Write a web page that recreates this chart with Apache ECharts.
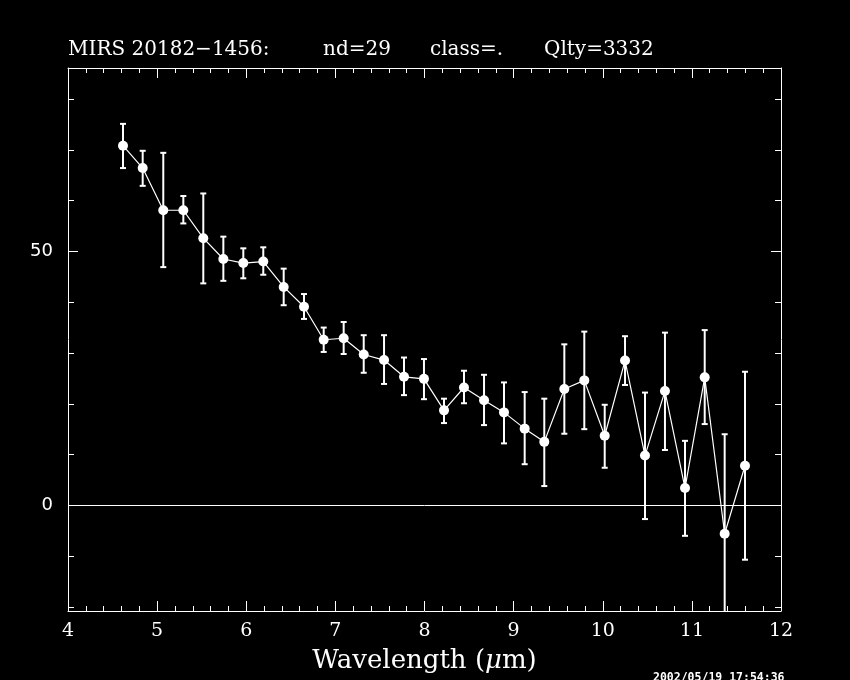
<!DOCTYPE html>
<html><head><meta charset="utf-8">
<script src="https://cdn.jsdelivr.net/npm/echarts@6/dist/echarts.min.js"></script>
<style>html,body{margin:0;padding:0;background:#000}#c{width:850px;height:680px}</style>
</head><body><div id="c"></div>
<script>
// Data
const wavelength = [4.617,4.838,5.069,5.294,5.518,5.743,5.967,6.191,6.420,6.648,6.869,7.093,7.318,7.546,7.770,7.994,8.219,8.443,8.668,8.892,9.124,9.344,9.569,9.793,10.022,10.250,10.474,10.698,10.923,11.144,11.368,11.596];
const flux = [70.8,66.4,58.1,58.1,52.6,48.5,47.7,48.0,43.0,39.1,32.6,32.9,29.7,28.6,25.3,24.9,18.7,23.2,20.7,18.3,15.1,12.5,22.9,24.6,13.7,28.5,9.8,22.5,3.4,25.2,-5.6,7.8];
const errHigh = [75.1,69.8,69.4,60.9,61.4,52.9,50.6,50.8,46.6,41.6,35.0,36.1,33.5,33.5,29.1,28.8,21.0,26.5,25.7,24.2,22.3,21.0,31.7,34.2,19.8,33.3,22.2,34.0,12.7,34.5,14.0,26.3];
const errLow = [66.4,62.9,46.9,55.5,43.7,44.2,44.7,45.4,39.4,36.7,30.2,29.8,26.1,23.9,21.7,20.9,16.2,20.1,15.8,12.2,8.1,3.8,14.1,15.0,7.4,23.7,-2.7,10.9,-6.0,16.0,-25.2,-10.7];
const yLabelValues = [0, 50];
const yMinorValues = [-20,-10,0,10,20,30,40,50,60,70,80];
const titleParts = ['MIRS 20182\u22121456:', 'nd=29', 'class=.', 'Qlty=3332'];
const stamp = '2002/05/19 17:54:36';

const W = '#ffffff';
const yMin = -20.8, yMax = 86.1;

const pts = wavelength.map((x, i) => [x, flux[i]]);
const errs = wavelength.map((x, i) => [x, errLow[i], errHigh[i]]);

function yAx(pos, ticks, len, showLine, showLabel) {
  return {
    type: 'value', position: pos, min: yMin, max: yMax,
    axisLine: {show: showLine, lineStyle: {color: W, width: 1}},
    axisTick: {show: true, inside: true, length: len, customValues: ticks, lineStyle: {color: W, width: 1}},
    axisLabel: {show: showLabel, customValues: yLabelValues, color: W, fontFamily: 'DejaVu Sans', fontSize: 18, margin: 15},
    splitLine: {show: false}
  };
}
function xAx(pos, showLabel) {
  return {
    type: 'value', position: pos, min: 4, max: 12, interval: 1,
    axisLine: {show: true, onZero: false, lineStyle: {color: W, width: 1}},
    axisTick: {show: true, inside: true, length: 10, lineStyle: {color: W, width: 1}},
    minorTick: {show: true, splitNumber: 5, length: 5, lineStyle: {color: W, width: 1}},
    axisLabel: {show: showLabel, color: W, fontFamily: 'DejaVu Serif', fontSize: 19, margin: 11},
    splitLine: {show: false}, minorSplitLine: {show: false}
  };
}

const chart = echarts.init(document.getElementById('c'));
const xa0 = xAx('bottom', true);
xa0.name = '{a|Wavelength (}{b|\u03bc}{a|m)}';
xa0.nameLocation = 'middle';
xa0.nameGap = 37;
xa0.nameTextStyle = {rich: {
  a: {color: W, fontFamily: 'DejaVu Serif', fontSize: 26},
  b: {color: W, fontFamily: 'DejaVu Serif', fontSize: 26, fontStyle: 'italic'}
}};

chart.setOption({
  backgroundColor: '#000',
  animation: false,
  grid: {left: 68, right: 69, top: 68, bottom: 69, containLabel: false},
  xAxis: [xa0, xAx('top', false)],
  yAxis: [
    yAx('left', yMinorValues, 6, true, true),
    yAx('left', yLabelValues, 10, false, false),
    yAx('right', yMinorValues, 6, true, false),
    yAx('right', yLabelValues, 10, false, false)
  ],
  graphic: [
    {type: 'text', left: 68, top: 40, style: {text: titleParts[0], fill: W, font: '20px "DejaVu Serif"'}},
    {type: 'text', left: 323, top: 40, style: {text: titleParts[1], fill: W, font: '20px "DejaVu Serif"'}},
    {type: 'text', left: 430, top: 40, style: {text: titleParts[2], fill: W, font: '20px "DejaVu Serif"'}},
    {type: 'text', left: 544, top: 40, style: {text: titleParts[3], fill: W, font: '20px "DejaVu Serif"'}},
    {type: 'text', left: 653, top: 672, style: {text: stamp, fill: W, font: 'bold 11.5px "DejaVu Sans Mono"'}}
  ],
  series: [
    {
      type: 'custom', xAxisIndex: 0, yAxisIndex: 0, clip: true, silent: true,
      data: errs,
      encode: {x: 0, y: [1, 2]},
      renderItem: function (params, api) {
        const x = api.value(0);
        const lo = api.coord([x, api.value(1)]);
        const hi = api.coord([x, api.value(2)]);
        const h = 3;
        const st = {stroke: W, lineWidth: 2};
        return {type: 'group', children: [
          {type: 'line', shape: {x1: lo[0], y1: lo[1], x2: hi[0], y2: hi[1]}, style: st},
          {type: 'line', shape: {x1: lo[0]-h, y1: lo[1], x2: lo[0]+h, y2: lo[1]}, style: st},
          {type: 'line', shape: {x1: hi[0]-h, y1: hi[1], x2: hi[0]+h, y2: hi[1]}, style: st}
        ]};
      }
    },
    {
      type: 'line', xAxisIndex: 0, yAxisIndex: 0, data: pts, silent: true,
      symbol: 'circle', symbolSize: 10, showAllSymbol: true,
      lineStyle: {color: W, width: 1.2}, itemStyle: {color: W},
      markLine: {silent: true, symbol: 'none', label: {show: false},
        lineStyle: {color: W, width: 1, type: 'solid'}, data: [{yAxis: 0}]}
    }
  ]
});
</script>
</body></html>
